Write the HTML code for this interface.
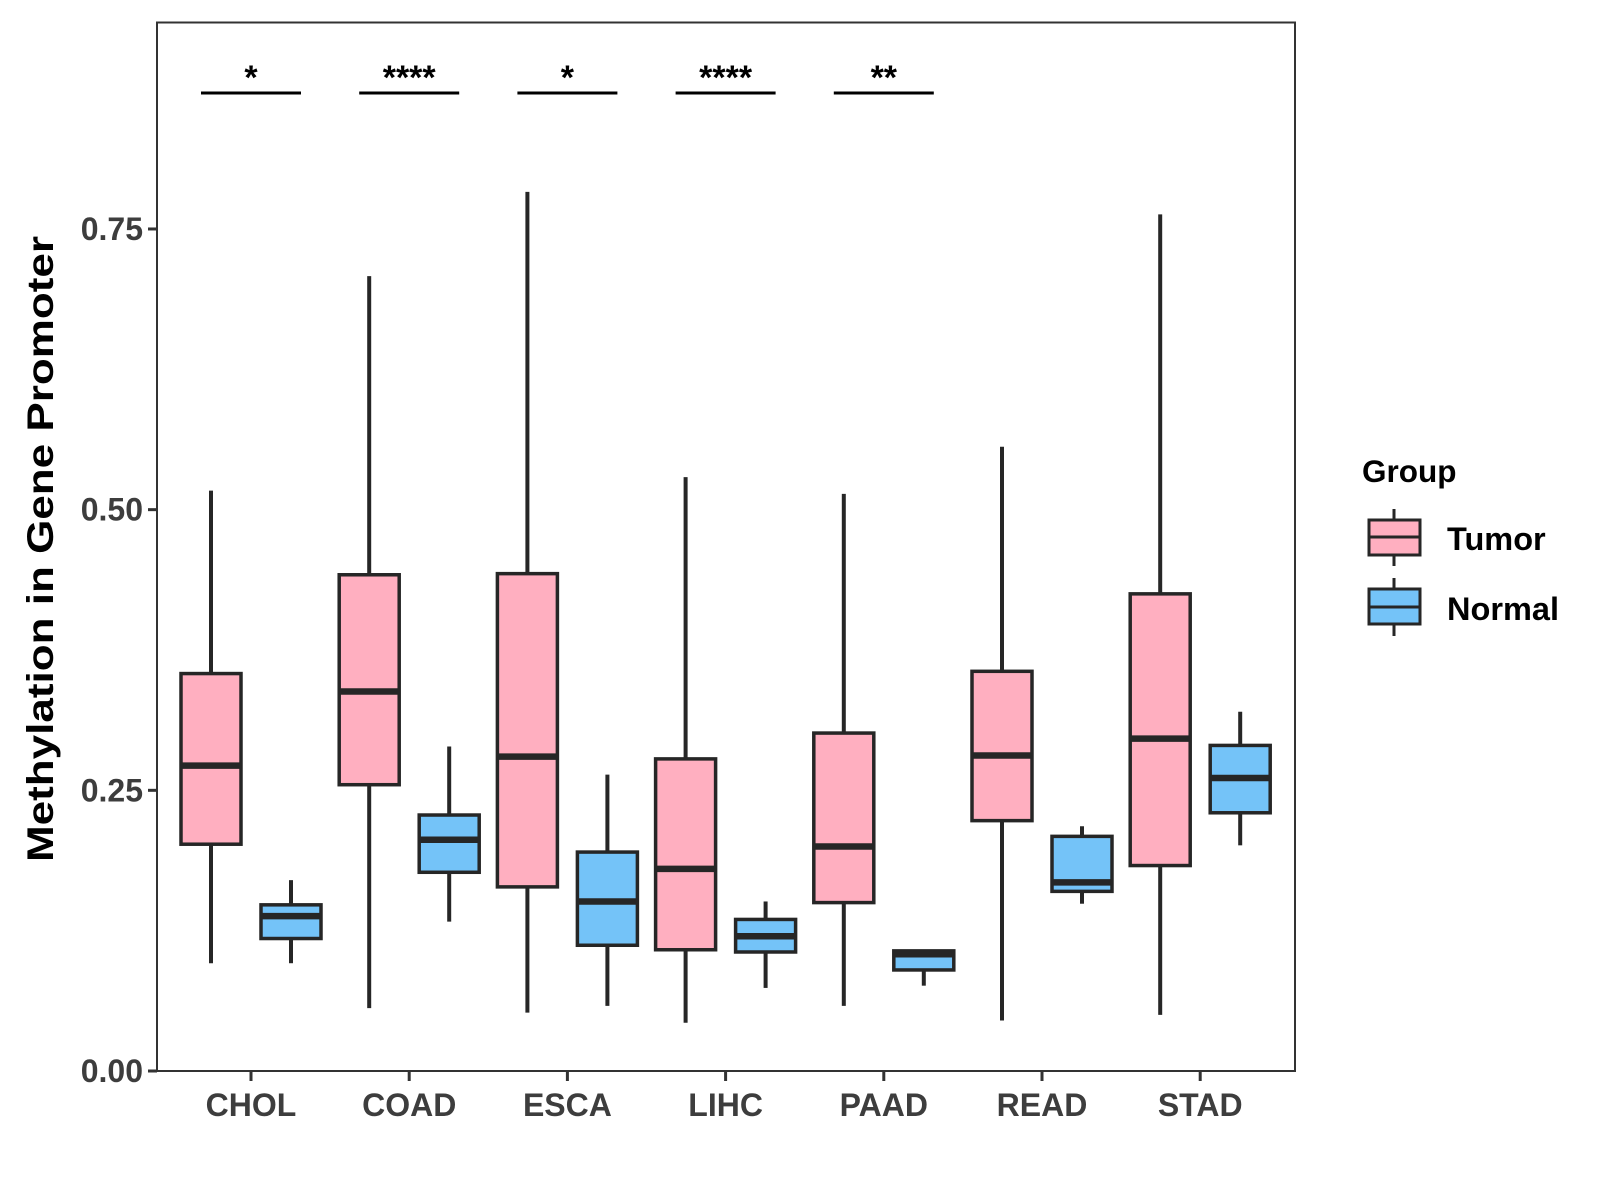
<!DOCTYPE html>
<html><head><meta charset="utf-8"><style>
html,body{margin:0;padding:0;background:#fff;}
svg{display:block;font-family:"Liberation Sans",Arial,sans-serif;}
</style></head><body>
<svg id="chart" width="1600" height="1200" viewBox="0 0 1600 1200" xmlns="http://www.w3.org/2000/svg">
<rect x="0" y="0" width="1600" height="1200" fill="#fff"/>
<g id="plot"></g>
<text transform="translate(53,549) rotate(-90)" text-anchor="middle" font-size="37" font-weight="bold" fill="#000" textLength="626" lengthAdjust="spacingAndGlyphs">Methylation in Gene Promoter</text>
<g>
<text x="1362" y="482" font-size="31.5" font-weight="bold" fill="#000">Group</text>
<g>
<line x1="1394" y1="509" x2="1394" y2="566" stroke="#262626" stroke-width="3"/>
<rect x="1369" y="520" width="51" height="35" fill="#FFAFC0" stroke="#262626" stroke-width="3"/>
<line x1="1369" y1="537" x2="1420" y2="537" stroke="#262626" stroke-width="3"/>
<text x="1447" y="550" font-size="32.5" font-weight="bold" fill="#000">Tumor</text>
</g>
<g>
<line x1="1394" y1="578" x2="1394" y2="636" stroke="#262626" stroke-width="3"/>
<rect x="1369" y="589" width="51" height="35" fill="#74C3F8" stroke="#262626" stroke-width="3"/>
<line x1="1369" y1="607" x2="1420" y2="607" stroke="#262626" stroke-width="3"/>
<text x="1447" y="620" font-size="32.5" font-weight="bold" fill="#000">Normal</text>
</g>
</g>
</svg>
<script>
const categories = ["CHOL","COAD","ESCA","LIHC","PAAD","READ","STAD"];
// [min, q1, median, q3, max]
const tumorStats = [
 [0.096,0.202,0.272,0.354,0.517],
 [0.056,0.255,0.338,0.442,0.708],
 [0.052,0.164,0.280,0.443,0.783],
 [0.043,0.108,0.180,0.278,0.529],
 [0.058,0.150,0.200,0.301,0.514],
 [0.045,0.223,0.281,0.356,0.556],
 [0.050,0.183,0.296,0.425,0.763]
];
const normalStats = [
 [0.096,0.118,0.138,0.148,0.170],
 [0.133,0.177,0.206,0.228,0.289],
 [0.058,0.112,0.151,0.195,0.264],
 [0.074,0.106,0.120,0.135,0.151],
 [0.076,0.090,0.104,0.107,0.108],
 [0.149,0.160,0.168,0.209,0.218],
 [0.201,0.230,0.261,0.290,0.320]
];
const sigLabels = ["*","****","*","****","**","",""];
const yTicks = [0, 0.25, 0.5, 0.75];
const yTickLabels = ["0.00","0.25","0.50","0.75"];

const NS="http://www.w3.org/2000/svg";
const P={l:157,r:1295,t:22.5,b:1071};
const y = v => P.b - v*1122.7;
const x = i => 251 + i*158.2;
const g=document.getElementById('plot');
function el(tag,attrs,parent){const e=document.createElementNS(NS,tag);for(const k in attrs)e.setAttribute(k,attrs[k]);(parent||g).appendChild(e);return e;}

const frame=el('rect',{x:P.l,y:P.t,width:P.r-P.l,height:P.b-P.t,fill:'none',stroke:'#333',"stroke-width":2});



yTicks.forEach((v,i)=>{
  const t=el('line',{x1:P.l-9,x2:P.l,y1:y(v),y2:y(v),stroke:'#333',"stroke-width":3});
  
  
  const tx=el('text',{x:P.l-14,y:y(v)+11,"text-anchor":'end',"font-size":32,"font-weight":'bold',fill:'#3d3d3d'});
  tx.textContent=yTickLabels[i];
  
  
});

function drawBox(s,cx,fill,name){
  const bg=el('g',{});
  
  
  const w=60;
  el('line',{x1:cx,x2:cx,y1:y(s[4]),y2:y(s[3]),stroke:'#262626',"stroke-width":4},bg);
  el('line',{x1:cx,x2:cx,y1:y(s[1]),y2:y(s[0]),stroke:'#262626',"stroke-width":4},bg);
  el('rect',{x:cx-w/2,y:y(s[3]),width:w,height:y(s[1])-y(s[3]),fill:fill,stroke:'#262626',"stroke-width":3.5},bg);
  el('line',{x1:cx-w/2,x2:cx+w/2,y1:y(s[2]),y2:y(s[2]),stroke:'#262626',"stroke-width":6.5},bg);
}

categories.forEach((c,i)=>{
  const cx=x(i);
  const t=el('line',{x1:cx,x2:cx,y1:P.b,y2:P.b+10,stroke:'#333',"stroke-width":3});
  
  
  const tx=el('text',{x:cx,y:P.b+45,"text-anchor":'middle',"font-size":32,"font-weight":'bold',fill:'#3d3d3d'});
  tx.textContent=c;
  
  
  drawBox(tumorStats[i],cx-40,'#FFAFC0','box-tumor-'+c.toLowerCase());
  drawBox(normalStats[i],cx+40,'#74C3F8','box-normal-'+c.toLowerCase());
  if(sigLabels[i]){
    const sl=el('line',{x1:cx-50,x2:cx+50,y1:93,y2:93,stroke:'#000',"stroke-width":3});
    
    
    const st=el('text',{x:cx,y:89,"text-anchor":'middle',"font-size":34,"font-weight":'bold',fill:'#000'});
    st.textContent=sigLabels[i];
    
    
  }
});
</script>
</body></html>
